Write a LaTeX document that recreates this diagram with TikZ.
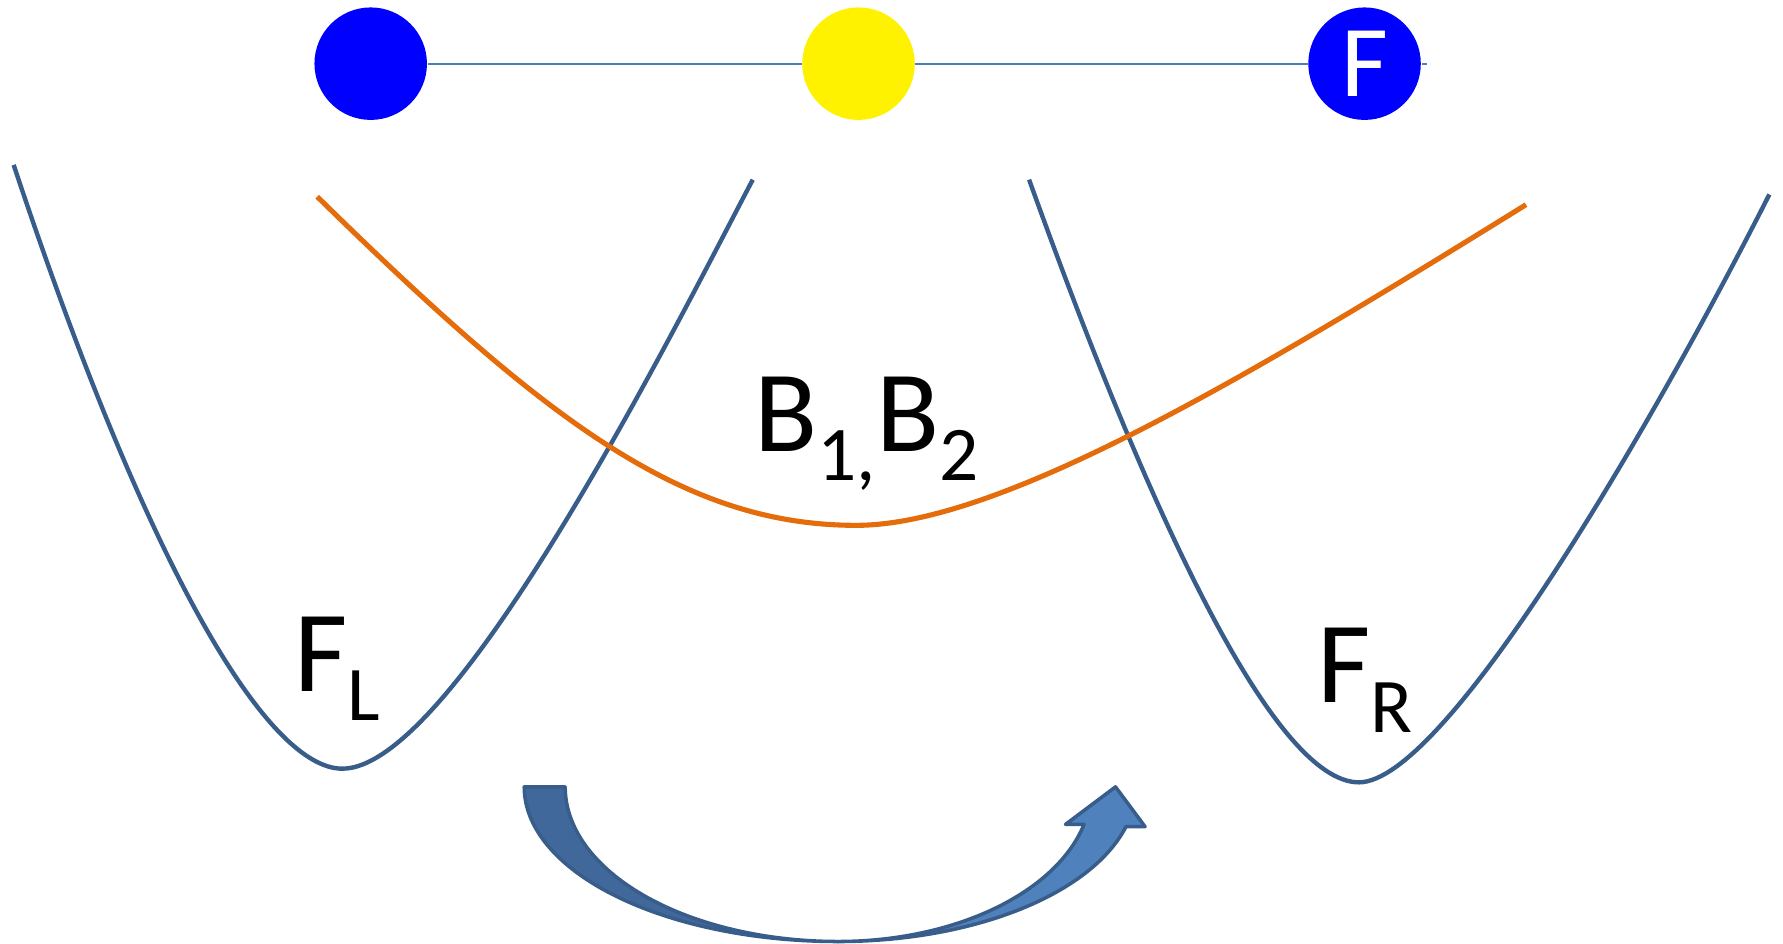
\documentclass[tikz,border=0pt]{standalone}
\usepackage{fontspec}
\setmainfont{Carlito}
\definecolor{curveblue}{HTML}{385D8A}
\definecolor{curveorange}{HTML}{E46C0A}
\definecolor{linkblue}{HTML}{4A7EBB}
\definecolor{arrowdark}{HTML}{41689A}
\definecolor{arrowlight}{HTML}{4F81BD}
\newcommand{\subtxt}[1]{\raisebox{-8.4pt}{\fontsize{22}{22}\selectfont #1}}
\tikzset{
  ball/.style={circle, minimum size=32pt, inner sep=0pt, draw=none},
  well/.style={draw=curveblue, line width=1.25pt},
  band/.style={draw=curveorange, line width=1.45pt},
  lbl/.style={anchor=base west, inner sep=0pt, font=\fontsize{33}{33}\selectfont},
  arrowpart/.style={draw=curveblue, line width=1pt, line join=round}
}
\begin{document}
\begin{tikzpicture}[x=0.011371cm, y=-0.011371cm]
\useasboundingbox (0,0) rectangle (1568,830);
% top chain
\node[ball, fill=blue] (c1) at (326,56) {};
\node[ball, fill=yellow] (c2) at (755,56) {};
\node[ball, fill=blue, text=white, font=\fontsize{29}{29}\selectfont] (c3) at (1200,56) {F};
\coordinate (lineend) at (1255,56);
\draw[linkblue, line width=0.6pt] (c1.east) -- (c2.west) (c2.east) -- (c3.west) (c3.east) -- (lineend);
% left well
\draw[well] (12,145) .. controls (130,500) and (235,676) .. (301,676)
            .. controls (400,676) and (595,285) .. (662,158);
% right well
\draw[well] (905,158) .. controls (1010,450) and (1120,688) .. (1195,688)
            .. controls (1270,688) and (1450,380) .. (1556,171);
% orange band
\draw[band] (279,173) .. controls (480,370) and (600,462) .. (753,462)
            .. controls (880,462) and (1100,330) .. (1342,180);
% labels
\node[lbl] (b12) at (663,397) {B\subtxt{1,}B\subtxt{2}};
\node[lbl] (fl) at (258,608) {F\subtxt{L}};
\node[lbl] (fr) at (1158,618) {F\subtxt{R}};
% curved arrow
\fill[arrowlight, arrowpart]
  plot[domain=90:14.9, samples=60] ({737+262*cos(\x)},{692+136*sin(\x)})
  -- (1007,727) -- (981,692) -- (937,725) -- (953,725)
  -- plot[domain=14:90, samples=60] ({737+223*cos(\x)},{692+136*sin(\x)}) -- cycle;
\fill[arrowdark, arrowpart]
  plot[domain=180:90, samples=60] ({737+276*cos(\x)},{692+136*sin(\x)})
  -- plot[domain=90:180, samples=60] ({737+240*cos(\x)},{692+136*sin(\x)}) -- cycle;
\end{tikzpicture}
\end{document}
